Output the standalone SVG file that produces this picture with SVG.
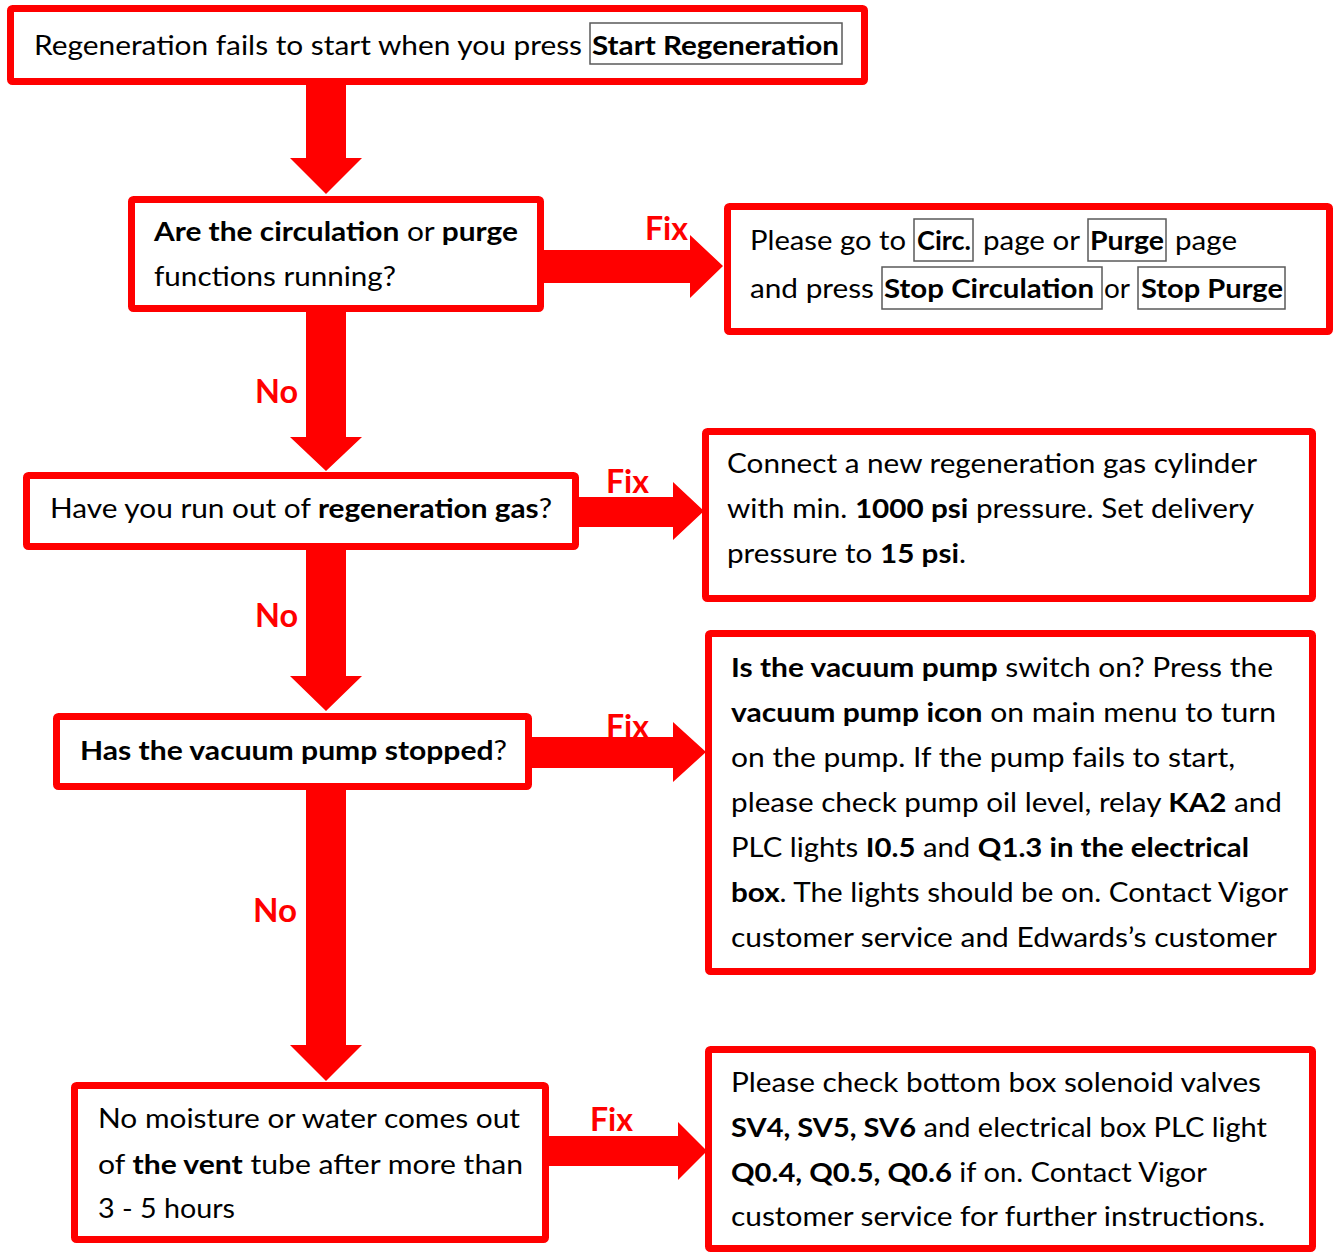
<svg xmlns="http://www.w3.org/2000/svg" width="1334" height="1254" viewBox="0 0 1334 1254">
<style>
.box{fill:#fff;stroke:#ff0000;stroke-width:7}
.ib{fill:none;stroke:#5a5a5a;stroke-width:1.5}
.t{font-family:Lato,"Open Sans",sans-serif;font-size:27px;fill:#000}
.b{font-weight:700}
.lbl{font-family:Lato,"Open Sans",sans-serif;font-size:33px;font-weight:700;fill:#ff0000}
.arr{fill:#ff0000}
</style>
<rect width="1334" height="1254" fill="#fff"/>
<g id="connectors">
<path class="arr" d="M306,85 L346,85 L346,158 L362,158 L326,194 L290,158 L306,158 Z"/>
<path class="arr" d="M306,312 L346,312 L346,437 L362,437 L326,471 L290,437 L306,437 Z"/>
<path class="arr" d="M306,550 L346,550 L346,676 L362,676 L326,711 L290,676 L306,676 Z"/>
<path class="arr" d="M306,790 L346,790 L346,1045 L362,1045 L326,1081 L290,1045 L306,1045 Z"/>
<path class="arr" d="M544,250 L690,250 L690,235 L723,266 L690,298 L690,283 L544,283 Z"/>
<path class="arr" d="M579,497 L673,497 L673,482 L704,511 L673,540 L673,527 L579,527 Z"/>
<path class="arr" d="M532,737 L673,737 L673,722 L706,752 L673,782 L673,768 L532,768 Z"/>
<path class="arr" d="M549,1136 L678,1136 L678,1122 L707,1151 L678,1180 L678,1166 L549,1166 Z"/>
<text class="lbl" x="645" y="240" textLength="43" lengthAdjust="spacingAndGlyphs">Fix</text>
<text class="lbl" x="606" y="493" textLength="43" lengthAdjust="spacingAndGlyphs">Fix</text>
<text class="lbl" x="606" y="738" textLength="43" lengthAdjust="spacingAndGlyphs">Fix</text>
<text class="lbl" x="590" y="1131" textLength="43" lengthAdjust="spacingAndGlyphs">Fix</text>
<text class="lbl" x="255" y="403" textLength="43" lengthAdjust="spacingAndGlyphs">No</text>
<text class="lbl" x="255" y="627" textLength="43" lengthAdjust="spacingAndGlyphs">No</text>
<text class="lbl" x="253" y="922" textLength="44" lengthAdjust="spacingAndGlyphs">No</text>
</g>
<g id="start">
<rect class="box" x="10.5" y="8.5" width="854" height="73" rx="2"/>
<text class="t" x="34" y="55" textLength="548" lengthAdjust="spacingAndGlyphs">Regeneration fails to start when you press</text>
<rect class="ib" x="590" y="23" width="252" height="41"/>
<text class="t b" x="592" y="55" textLength="247" lengthAdjust="spacingAndGlyphs">Start Regeneration</text>
</g>
<g id="q1">
<rect class="box" x="131.5" y="199.5" width="409" height="109" rx="2"/>
<text class="t" x="154" y="241" textLength="364" lengthAdjust="spacingAndGlyphs"><tspan class="b">Are the circulation</tspan> or <tspan class="b">purge</tspan></text>
<text class="t" x="154" y="286" textLength="242" lengthAdjust="spacingAndGlyphs">functions running?</text>
</g>
<g id="fix1">
<rect class="box" x="727.5" y="206.5" width="602" height="125" rx="2"/>
<text class="t" x="750" y="250" textLength="156" lengthAdjust="spacingAndGlyphs">Please go to</text>
<rect class="ib" x="914" y="219" width="59" height="42"/>
<text class="t b" x="917" y="250" textLength="54" lengthAdjust="spacingAndGlyphs">Circ.</text>
<text class="t" x="983" y="250" textLength="97" lengthAdjust="spacingAndGlyphs">page or</text>
<rect class="ib" x="1088" y="219" width="78" height="42"/>
<text class="t b" x="1090" y="250" textLength="74" lengthAdjust="spacingAndGlyphs">Purge</text>
<text class="t" x="1175" y="250" textLength="62" lengthAdjust="spacingAndGlyphs">page</text>
<text class="t" x="750" y="298" textLength="124" lengthAdjust="spacingAndGlyphs">and press</text>
<rect class="ib" x="882" y="267" width="220" height="42"/>
<text class="t b" x="884" y="298" textLength="210" lengthAdjust="spacingAndGlyphs">Stop Circulation</text>
<text class="t" x="1104" y="298" textLength="26" lengthAdjust="spacingAndGlyphs">or</text>
<rect class="ib" x="1138" y="267" width="147" height="42"/>
<text class="t b" x="1141" y="298" textLength="142" lengthAdjust="spacingAndGlyphs">Stop Purge</text>
</g>
<g id="q2">
<rect class="box" x="26.5" y="475.5" width="549" height="71" rx="2"/>
<text class="t" x="50" y="518" textLength="502" lengthAdjust="spacingAndGlyphs">Have you run out of <tspan class="b">regeneration gas</tspan>?</text>
</g>
<g id="fix2">
<rect class="box" x="705.5" y="431.5" width="607" height="167" rx="2"/>
<text class="t" x="727" y="473" textLength="530" lengthAdjust="spacingAndGlyphs">Connect a new regeneration gas cylinder</text>
<text class="t" x="727" y="518" textLength="527" lengthAdjust="spacingAndGlyphs">with min. <tspan class="b">1000 psi</tspan> pressure. Set delivery</text>
<text class="t" x="727" y="563" textLength="239" lengthAdjust="spacingAndGlyphs">pressure to <tspan class="b">15 psi</tspan>.</text>
</g>
<g id="q3">
<rect class="box" x="56.5" y="716.5" width="472" height="70" rx="2"/>
<text class="t" x="80" y="760" textLength="427" lengthAdjust="spacingAndGlyphs"><tspan class="b">Has the vacuum pump stopped</tspan>?</text>
</g>
<g id="fix3">
<rect class="box" x="708.5" y="633.5" width="604" height="338" rx="2"/>
<text class="t" x="731" y="677" textLength="542" lengthAdjust="spacingAndGlyphs"><tspan class="b">Is the vacuum pump</tspan> switch on? Press the</text>
<text class="t" x="731" y="722" textLength="545" lengthAdjust="spacingAndGlyphs"><tspan class="b">vacuum pump icon</tspan> on main menu to turn</text>
<text class="t" x="731" y="767" textLength="504" lengthAdjust="spacingAndGlyphs">on the pump. If the pump fails to start,</text>
<text class="t" x="731" y="812" textLength="551" lengthAdjust="spacingAndGlyphs">please check pump oil level, relay <tspan class="b">KA2</tspan> and</text>
<text class="t" x="731" y="857" textLength="518" lengthAdjust="spacingAndGlyphs">PLC lights <tspan class="b">I0.5</tspan> and <tspan class="b">Q1.3 in the electrical</tspan></text>
<text class="t" x="731" y="902" textLength="557" lengthAdjust="spacingAndGlyphs"><tspan class="b">box</tspan>. The lights should be on. Contact Vigor</text>
<text class="t" x="731" y="947" textLength="546" lengthAdjust="spacingAndGlyphs">customer service and Edwards’s customer</text>
</g>
<g id="q4">
<rect class="box" x="74.5" y="1085.5" width="471" height="154" rx="2"/>
<text class="t" x="98" y="1128" textLength="422" lengthAdjust="spacingAndGlyphs">No moisture or water comes out</text>
<text class="t" x="98" y="1174" textLength="425" lengthAdjust="spacingAndGlyphs">of <tspan class="b">the vent</tspan> tube after more than</text>
<text class="t" x="98" y="1218" textLength="137" lengthAdjust="spacingAndGlyphs">3 - 5 hours</text>
</g>
<g id="fix4">
<rect class="box" x="708.5" y="1049.5" width="604" height="199" rx="2"/>
<text class="t" x="731" y="1092" textLength="530" lengthAdjust="spacingAndGlyphs">Please check bottom box solenoid valves</text>
<text class="t" x="731" y="1137" textLength="536" lengthAdjust="spacingAndGlyphs"><tspan class="b">SV4, SV5, SV6</tspan> and electrical box PLC light</text>
<text class="t" x="731" y="1182" textLength="476" lengthAdjust="spacingAndGlyphs"><tspan class="b">Q0.4, Q0.5, Q0.6</tspan> if on. Contact Vigor</text>
<text class="t" x="731" y="1226" textLength="534" lengthAdjust="spacingAndGlyphs">customer service for further instructions.</text>
</g>
</svg>
